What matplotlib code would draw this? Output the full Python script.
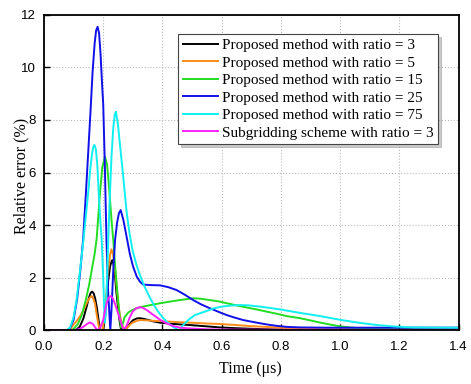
import matplotlib
matplotlib.use('Agg')
import matplotlib.pyplot as plt

# Relative error curves (time in us, error in %)
t_r3 = [0, 0.095, 0.11, 0.121, 0.133, 0.144, 0.152, 0.158, 0.163, 0.168, 0.173, 0.178, 0.183, 0.188, 0.192,
        0.2, 0.205, 0.211, 0.217, 0.223, 0.228, 0.231, 0.235, 0.24, 0.245, 0.251, 0.256, 0.26, 0.268, 0.28,
        0.29, 0.3, 0.313, 0.324, 0.335, 0.35, 0.369, 0.392, 0.44, 0.493, 0.55, 0.594, 0.65, 0.696, 0.75, 0.8, 1.4]
e_r3 = [0, 0, 0.03, 0.14, 0.45, 0.9, 1.25, 1.43, 1.47, 1.4, 1.2, 0.9, 0.5, 0.1, 0,
        0, 0.45, 1.15, 1.9, 2.42, 2.62, 2.67, 2.5, 2.04, 1.4, 0.77, 0.3, 0.05, 0, 0.1,
        0.25, 0.38, 0.45, 0.46, 0.44, 0.4, 0.34, 0.29, 0.24, 0.2, 0.15, 0.11, 0.08, 0.06, 0.04, 0.03, 0.02]

t_r5 = [0, 0.085, 0.099, 0.11, 0.121, 0.133, 0.144, 0.153, 0.158, 0.161, 0.165, 0.172, 0.178, 0.183, 0.188,
        0.198, 0.206, 0.212, 0.217, 0.223, 0.228, 0.233, 0.24, 0.246, 0.251, 0.256, 0.262, 0.27, 0.28, 0.296,
        0.31, 0.324, 0.345, 0.369, 0.392, 0.44, 0.493, 0.55, 0.594, 0.65, 0.696, 0.75, 0.797, 0.865, 0.95, 1.1, 1.4]
e_r5 = [0, 0, 0.2, 0.35, 0.52, 0.75, 1.03, 1.22, 1.28, 1.3, 1.25, 1.03, 0.6, 0.27, 0.02,
        0, 0.77, 1.6, 2.29, 2.85, 3.08, 2.9, 2.29, 1.6, 1.03, 0.6, 0.27, 0, 0.1, 0.27,
        0.35, 0.39, 0.38, 0.36, 0.35, 0.32, 0.29, 0.26, 0.24, 0.2, 0.16, 0.13, 0.1, 0.06, 0.04, 0.02, 0.01]

t_r15 = [0, 0.09, 0.1, 0.115, 0.128, 0.14, 0.152, 0.163, 0.171, 0.178, 0.189, 0.197, 0.206, 0.213, 0.22,
         0.228, 0.234, 0.24, 0.248, 0.255, 0.26, 0.265, 0.272, 0.285, 0.3, 0.318, 0.341, 0.37, 0.392, 0.43,
         0.459, 0.504, 0.53, 0.56, 0.59, 0.617, 0.65, 0.684, 0.72, 0.752, 0.79, 0.82, 0.865, 0.898, 0.93,
         0.966, 1.0, 1.033, 1.1, 1.2, 1.4]
e_r15 = [0, 0, 0.05, 0.25, 0.6, 1.1, 1.7, 2.4, 2.9, 3.5, 5.2, 6.2, 6.6, 6.3, 5.4,
         4.2, 3.43, 2.5, 1.4, 0.6, 0.1, 0.2, 0.5, 0.68, 0.78, 0.86, 0.92, 0.98, 1.03, 1.1,
         1.15, 1.22, 1.2, 1.15, 1.1, 1.03, 0.95, 0.87, 0.79, 0.71, 0.62, 0.54, 0.46, 0.38, 0.3,
         0.22, 0.15, 0.11, 0.05, 0.03, 0.02]

t_r25 = [0, 0.085, 0.1, 0.112, 0.122, 0.132, 0.142, 0.15, 0.157, 0.164, 0.171, 0.176, 0.181, 0.186, 0.191,
         0.196, 0.2, 0.205, 0.211, 0.216, 0.224, 0.229, 0.234, 0.24, 0.247, 0.253, 0.259, 0.268, 0.279, 0.29,
         0.301, 0.313, 0.324, 0.335, 0.36, 0.392, 0.42, 0.448, 0.476, 0.504, 0.53, 0.56, 0.59, 0.617, 0.645,
         0.673, 0.7, 0.729, 0.76, 0.786, 0.82, 0.865, 0.95, 1.05, 1.2, 1.4]
e_r25 = [0, 0, 0.4, 1.2, 2.2, 3.43, 5.3, 6.9, 8.3, 9.8, 10.9, 11.4, 11.54, 11.3, 10.5,
         9.4, 8.6, 6.5, 3.43, 1.6, 0, 1.0, 2.3, 3.43, 4.1, 4.45, 4.57, 4.2, 3.56, 2.9,
         2.42, 2.05, 1.85, 1.74, 1.72, 1.71, 1.64, 1.53, 1.35, 1.15, 0.99, 0.84, 0.7, 0.58, 0.48,
         0.39, 0.33, 0.27, 0.21, 0.17, 0.13, 0.11, 0.1, 0.1, 0.1, 0.1]

t_r75 = [0, 0.075, 0.088, 0.1, 0.11, 0.121, 0.132, 0.141, 0.149, 0.156, 0.161, 0.166, 0.17, 0.175, 0.18,
         0.185, 0.19, 0.195, 0.2, 0.205, 0.209, 0.213, 0.217, 0.222, 0.228, 0.234, 0.239, 0.243, 0.25, 0.258,
         0.268, 0.279, 0.29, 0.3, 0.312, 0.324, 0.34, 0.355, 0.37, 0.385, 0.4, 0.414, 0.428, 0.44, 0.453,
         0.458, 0.47, 0.49, 0.51, 0.53, 0.55, 0.575, 0.6, 0.63, 0.66, 0.69, 0.73, 0.77, 0.8, 0.83,
         0.865, 0.9, 0.943, 1.0, 1.056, 1.124, 1.19, 1.25, 1.4]
e_r75 = [0, 0, 0.1, 0.5, 1.15, 2.2, 3.3, 4.3, 5.2, 6.1, 6.6, 6.95, 7.05, 6.9, 6.3,
         5.2, 4.2, 3.43, 2.0, 0.3, 0.6, 2.0, 3.43, 5.0, 6.6, 7.7, 8.2, 8.31, 7.8, 6.9,
         5.8, 4.5, 3.6, 3.0, 2.5, 2.1, 1.65, 1.3, 0.98, 0.72, 0.5, 0.33, 0.2, 0.1, 0.02,
         0, 0.2, 0.42, 0.58, 0.66, 0.74, 0.84, 0.9, 0.94, 0.96, 0.95, 0.9, 0.84, 0.79, 0.73,
         0.66, 0.6, 0.52, 0.4, 0.3, 0.2, 0.14, 0.11, 0.1]

t_sub = [0, 0.1, 0.12, 0.135, 0.145, 0.155, 0.165, 0.175, 0.18, 0.19, 0.2, 0.206, 0.212, 0.219, 0.226,
         0.233, 0.24, 0.248, 0.256, 0.265, 0.27, 0.28, 0.29, 0.3, 0.312, 0.324, 0.335, 0.35, 0.365, 0.38,
         0.392, 0.41, 0.425, 0.44, 0.46, 0.493, 0.55, 0.6, 0.8, 1.4]
e_sub = [0, 0, 0.05, 0.15, 0.24, 0.3, 0.24, 0.08, 0, 0.1, 0.39, 0.75, 1.05, 1.25, 1.3,
         1.2, 1.0, 0.72, 0.45, 0.12, 0.02, 0.2, 0.5, 0.72, 0.84, 0.88, 0.85, 0.75, 0.62, 0.5,
         0.4, 0.29, 0.21, 0.15, 0.1, 0.07, 0.04, 0.03, 0.02, 0.01]

labels = ['Proposed method with ratio = 3', 'Proposed method with ratio = 5',
          'Proposed method with ratio = 15', 'Proposed method with ratio = 25',
          'Proposed method with ratio = 75', 'Subgridding scheme with ratio = 3']
colors = ['black', '#ff8c1a', '#22dd22', '#1010e8', '#11f0f0', '#ff22ff']
series = [(t_r3, e_r3), (t_r5, e_r5), (t_r15, e_r15), (t_r25, e_r25), (t_r75, e_r75), (t_sub, e_sub)]

fig = plt.figure(figsize=(4.71, 3.84), dpi=100)
ax = fig.add_axes([0.0934, 0.1398, 0.8801, 0.8219])

for (t, e), c, lab in zip(series, colors, labels):
    ax.plot(t, e, color=c, lw=1.4, label=lab)

ax.set_xlim(0, 1.4)
ax.set_ylim(0, 12)
ax.set_xticks([0, 0.2, 0.4, 0.6, 0.8, 1.0, 1.2, 1.4])
ax.set_yticks([0, 2, 4, 6, 8, 10, 12])
ax.set_xticklabels(['%.1f' % v for v in ax.get_xticks()], family='Liberation Sans', fontsize=9.5)
ax.set_yticklabels(['%d' % v for v in ax.get_yticks()], family='Liberation Sans', fontsize=9.5)
ax.tick_params(direction='in', length=4, width=1, colors='black')
ax.tick_params(axis='x', pad=8)
ax.tick_params(axis='y', pad=6)
ax.grid(True, ls=':', color='#bbbbbb', lw=0.8)
for s in ax.spines.values():
    s.set_linewidth(1.3)

ax.set_xlabel('Time (\u03bcs)', family='Liberation Serif', fontsize=11.5)
ax.set_ylabel('Relative error (%)', family='Liberation Serif', fontsize=11.5)
ax.xaxis.set_label_coords(0.497, -0.098)
ax.yaxis.set_label_coords(-0.036, 0.49)

leg = ax.legend(loc='upper right', bbox_to_anchor=(0.951, 0.939), prop={'family': 'Liberation Serif', 'size': 11},
                fancybox=False, shadow={'color': '0.6'}, handlelength=2.3, labelspacing=0.25, borderpad=0.3,
                handletextpad=0.25, borderaxespad=0)
leg.get_frame().set_edgecolor('#444444')
leg.get_frame().set_linewidth(0.8)

fig.savefig('out.png', dpi=100)
